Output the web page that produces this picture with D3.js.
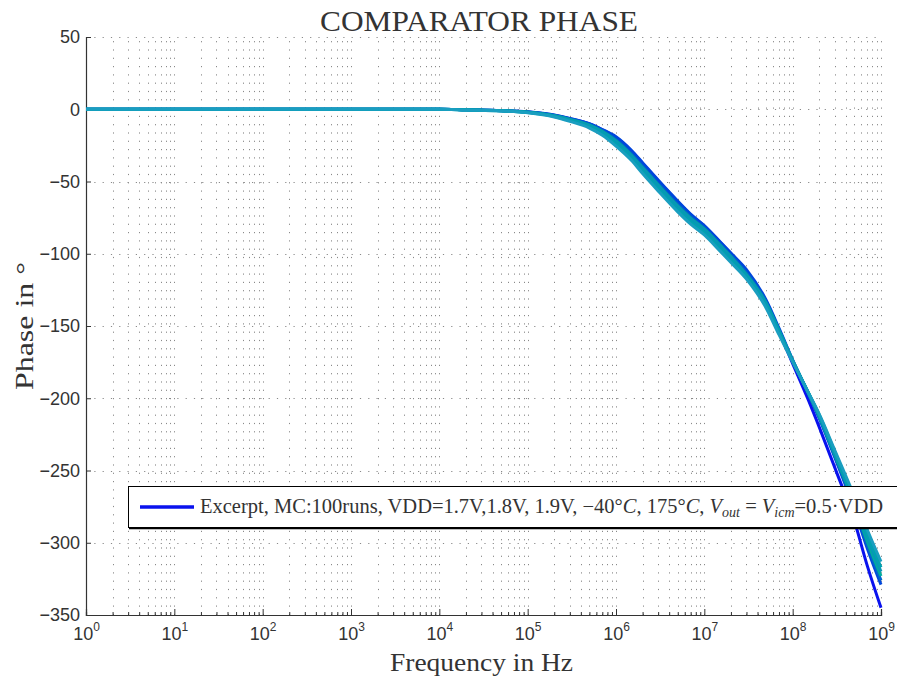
<html>
  <head>
    <meta charset="utf-8">
    <script src="https://d3js.org/d3.v7.min.js"></script>
    <title>COMPARATOR PHASE</title>
    <style>
      body { margin: 0px; background: #fff; }
      .tick text { font-family: "Liberation Sans", Arial, sans-serif; font-size: 18px; fill: #333; }
      .axis .domain { stroke: #333; stroke-width: 1.2px; }
      .axis .tick line { stroke: #333; }
      .grid line { stroke: #8a8a8a; stroke-width: 1px; stroke-dasharray: 1.2,7.1; }
      .serif { font-family: "Liberation Serif", "Times New Roman", serif; fill: #333; }
    </style>
  </head>
  <body>
    <svg width="897" height="679"></svg>
    <script>
      // frequency points (Hz) and phase of a few Monte-Carlo runs (degrees)
      const freq = [1, 1e1, 1e2, 1e3, 1e4, 2e4, 5e4, 1e5, 2e5, 3e5, 5e5, 7e5, 1e6, 1.5e6, 2e6, 3e6,
                    5e6, 7e6, 1e7, 1.5e7, 2e7, 3e7, 5e7, 7e7, 1e8, 1.5e8, 2e8, 3e8, 5e8, 7e8, 1e9];
      const runBlue  = [0, 0, 0, 0, 0, -0.4, -1.0, -1.9, -4.2, -6.5, -10.2, -14.3, -19.5, -29, -37.5, -49.5,
                        -64, -73, -81, -92, -100, -112, -133.5, -154, -176, -201, -220, -248, -285, -316, -345];
      const runDeep  = [0, 0, 0, 0, 0, -0.4, -0.9, -1.8, -4.0, -6.3, -10, -14, -19, -28.5, -37, -49,
                        -63.5, -72.5, -80.5, -91.5, -99.5, -111, -132, -151.5, -173.5, -197, -214, -241, -277, -304, -329];
      const runMid   = [0, 0, 0, 0, 0, -0.4, -0.95, -1.9, -4.3, -6.7, -10.5, -14.8, -21, -31, -39.5, -51.5,
                        -66, -74.5, -82.3, -93.3, -101.3, -113.3, -133.2, -152.5, -173.8, -196.5, -213, -240, -275, -301.5, -326];
      const runGreen = [0, 0, 0, 0, 0, -0.4, -1.0, -2.0, -4.5, -7, -11, -15.5, -22, -32, -40.5, -52.5,
                        -67, -75.5, -83, -94, -102, -114.5, -134, -153, -174, -196, -212.5, -239, -273.5, -299, -323];
      const runTeal  = [0, 0, 0, 0, 0, -0.4, -1.0, -2.1, -4.7, -7.3, -11.5, -16, -22.5, -32.6, -41, -53,
                        -67.5, -76, -83.5, -94.5, -102.5, -115, -134.5, -153.5, -174, -196, -212, -238, -272, -296.5, -320];
      const runCyan  = [0, 0, 0, 0, 0, -0.5, -1.1, -2.3, -5.0, -7.8, -12.2, -17, -24, -34.2, -43, -55,
                        -69.5, -78, -85.5, -96.5, -104.5, -116, -136, -154.5, -174.5, -196, -211.5, -237, -270, -294, -317];
      const runLight = [0, 0, 0, 0, 0, -0.5, -1.2, -2.5, -5.4, -8.4, -13, -18, -25.5, -35.5, -44.5, -56.5,
                        -71, -79.5, -87, -98, -106, -117.5, -137.5, -156, -175, -196, -211, -236, -268, -291, -313];

      const runs = [
        { values: runBlue,  color: '#0a12ee' },
        { values: runDeep,  color: '#0046dc' },
        { values: runMid,   color: '#0066cc' },
        { values: runGreen, color: '#00ad9c' },
        { values: runTeal,  color: '#0896b6' },
        { values: runCyan,  color: '#00a2b0' },
        { values: runLight, color: '#1a9ec0' }
      ];

      const yTicks = [50, 0, -50, -100, -150, -200, -250, -300, -350];
      const decades = [0, 1, 2, 3, 4, 5, 6, 7, 8, 9];
      const legendLabel = 'Excerpt, MC:100runs, VDD=1.7V,1.8V, 1.9V, ';

      var svg = d3.select('svg');
      var margin = { top: 37, left: 86, right: 16, bottom: 64 };
      var width = +svg.attr('width');
      var height = +svg.attr('height');

      var xScale = d3.scaleLog().domain([1, 1e9]).range([margin.left, width - margin.right]);
      var yScale = d3.scaleLinear().domain([-350, 50]).range([height - margin.bottom, margin.top]);

      var minorF = [];
      decades.slice(0, -1).forEach(e => {
        for (var m = 2; m <= 9; m++) minorF.push(m * Math.pow(10, e));
      });
      var majorF = decades.map(e => Math.pow(10, e));

      // dotted grid
      var grid = svg.append('g').attr('class', 'grid');
      grid.selectAll('line.v').data(majorF.concat(minorF))
        .enter().append('line')
          .attr('class', 'v')
          .attr('x1', d => Math.round(xScale(d)) + 0.5)
          .attr('x2', d => Math.round(xScale(d)) + 0.5)
          .attr('y1', yScale(-350))
          .attr('y2', yScale(50));
      grid.selectAll('line.h').data(yTicks.filter(d => d !== -350))
        .enter().append('line')
          .attr('class', 'h')
          .attr('x1', xScale(1))
          .attr('x2', xScale(1e9))
          .attr('y1', d => Math.round(yScale(d)) + 0.5)
          .attr('y2', d => Math.round(yScale(d)) + 0.5);

      // axes
      var yAxis = d3.axisLeft(yScale).tickValues(yTicks).tickSize(-5).tickPadding(6)
        .tickFormat(d => d < 0 ? '\u2212' + Math.abs(d) : d);
      svg.append('g').attr('class', 'axis')
        .attr('transform', `translate(${xScale(1)},0)`)
        .call(yAxis);

      var xAxisMinor = d3.axisBottom(xScale).tickValues(minorF).tickSize(-3).tickFormat('');
      svg.append('g').attr('class', 'axis')
        .attr('transform', `translate(0,${yScale(-350)})`)
        .call(xAxisMinor);
      var xAxis = d3.axisBottom(xScale).tickValues(majorF).tickSize(-6).tickPadding(14).tickFormat('');
      var xAxisG = svg.append('g').attr('class', 'axis')
        .attr('transform', `translate(0,${yScale(-350)})`)
        .call(xAxis);
      xAxisG.selectAll('.tick text').each(function (d) {
        var t = d3.select(this).attr('dy', null).attr('y', 25);
        t.append('tspan').text('10');
        t.append('tspan').attr('dy', -9).attr('font-size', 12).text(Math.round(Math.log10(d)));
      });

      // curves
      var line = d3.line()
        .x((d, i) => xScale(freq[i]))
        .y(d => yScale(d))
        .curve(d3.curveMonotoneX);
      svg.append('g').selectAll('path').data(runs)
        .enter().append('path')
          .attr('fill', 'none')
          .attr('stroke', d => d.color)
          .attr('stroke-width', 3)
          .attr('stroke-linejoin', 'round')
          .attr('d', d => line(d.values));

      // title and labels
      svg.append('text').attr('class', 'serif')
        .attr('x', 479).attr('y', 31)
        .attr('text-anchor', 'middle').attr('font-size', 30)
        .attr('textLength', 318).attr('lengthAdjust', 'spacingAndGlyphs')
        .text('COMPARATOR PHASE');
      svg.append('text').attr('class', 'serif')
        .attr('x', 481.5).attr('y', 671)
        .attr('text-anchor', 'middle').attr('font-size', 25)
        .attr('textLength', 183).attr('lengthAdjust', 'spacingAndGlyphs')
        .text('Frequency in Hz');
      svg.append('text').attr('class', 'serif')
        .attr('transform', 'translate(33,326) rotate(-90)')
        .attr('text-anchor', 'middle').attr('font-size', 25)
        .attr('textLength', 128).attr('lengthAdjust', 'spacingAndGlyphs')
        .text('Phase in \u00b0');

      // legend
      var lg = svg.append('g');
      lg.append('rect')
        .attr('x', 128.5).attr('y', 486.5).attr('width', 780).attr('height', 41)
        .attr('fill', '#fff').attr('stroke', '#000').attr('stroke-width', 1);
      lg.append('line')
        .attr('x1', 129).attr('x2', 900).attr('y1', 528.5).attr('y2', 528.5)
        .attr('stroke', '#000').attr('stroke-width', 1.5);
      lg.append('line')
        .attr('x1', 140).attr('x2', 194).attr('y1', 507).attr('y2', 507)
        .attr('stroke', runs[0].color).attr('stroke-width', 3.5);
      var lt = lg.append('text').attr('class', 'serif')
        .attr('x', 200).attr('y', 513).attr('font-size', 20.5).attr('fill', '#111');
      lt.append('tspan').text(legendLabel);
      lt.append('tspan').text('\u221240\u00b0');
      lt.append('tspan').attr('font-style', 'italic').text('C');
      lt.append('tspan').text(', 175\u00b0');
      lt.append('tspan').attr('font-style', 'italic').text('C');
      lt.append('tspan').text(', ');
      lt.append('tspan').attr('font-style', 'italic').text('V');
      lt.append('tspan').attr('font-style', 'italic').attr('font-size', 14).attr('dy', 4).text('out');
      lt.append('tspan').attr('dy', -4).text(' = ');
      lt.append('tspan').attr('font-style', 'italic').text('V');
      lt.append('tspan').attr('font-style', 'italic').attr('font-size', 14).attr('dy', 4).text('icm');
      lt.append('tspan').attr('dy', -4).text('=0.5\u00b7VDD');
    </script>
  </body>
</html>
